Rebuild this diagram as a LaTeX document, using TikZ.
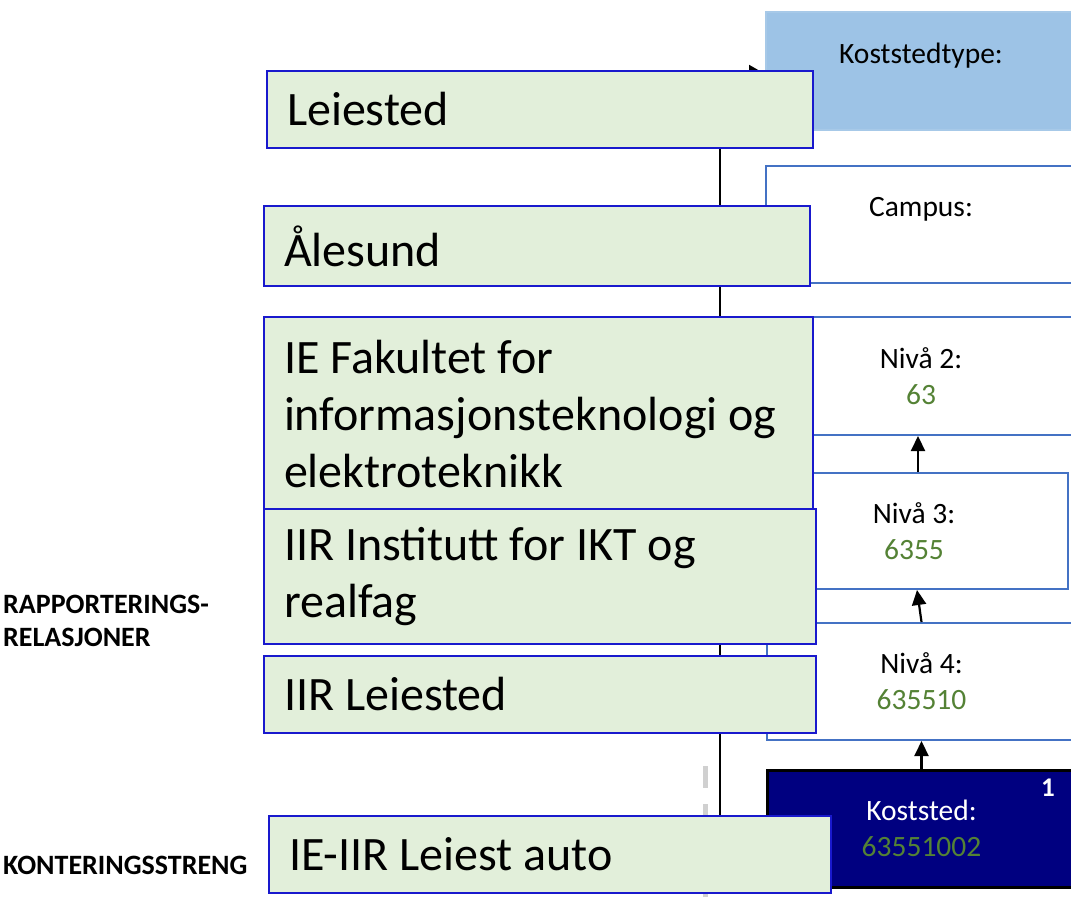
\documentclass[tikz,border=0pt]{standalone}
\usepackage{fontspec}
\setmainfont{Carlito}
\usetikzlibrary{arrows.meta}
\definecolor{gfill}{HTML}{E2EFDA}
\definecolor{gborder}{RGB}{25,25,205}
\definecolor{rborder}{HTML}{4472C4}
\definecolor{ktfill}{HTML}{9DC3E6}
\definecolor{navyfill}{HTML}{000080}
\definecolor{valgreen}{HTML}{548235}
\definecolor{dashgray}{HTML}{D0D0D0}
\newcommand\rstrut{\rule[-8pt]{0pt}{36pt}}
\begin{document}
\begin{tikzpicture}[x=1pt,y=-1pt,
  rbox/.style={draw=rborder, fill=white, line width=2pt, inner sep=0pt, align=center,
    font=\fontsize{29.5}{36}\selectfont},
  gbox/.style={draw=gborder, fill=gfill, line width=2pt, inner xsep=20pt, inner ysep=0pt,
    align=flush left, anchor=north west, font=\fontsize{48}{57}\selectfont},
  arr/.style={draw=black, line width=2.2pt, -{Triangle[length=15pt,width=14pt]}},
  spine/.style={draw=black, line width=2pt, -{Triangle[length=11pt,width=12pt]}},
  lbl/.style={inner sep=0pt, align=left, font=\bfseries\fontsize{28}{33}\selectfont}
]
\useasboundingbox (0,0) rectangle (1071,897);
\fill[white] (0,0) rectangle (1071,897);

% gray dashed line
\coordinate (dtop) at (705,766);
\coordinate (dbot) at (705,897);
\draw[dashgray, line width=5pt, dash pattern=on 22pt off 16pt] (dtop) -- (dbot);

% right-hand boxes
\node[rbox, draw=ktfill!90!white, fill=ktfill, minimum width=310pt, minimum height=118pt] (kt) at (921,71)
  {Koststedtype:\rstrut\\\rstrut};
\node[rbox, minimum width=310pt, minimum height=117pt] (campus) at (921,224.5)
  {Campus:\rstrut\\\rstrut};
\node[rbox, minimum width=310pt, minimum height=118pt] (n2) at (921,376)
  {Nivå 2:\rstrut\\\textcolor{valgreen}{63}\rstrut};
\node[rbox, minimum width=308pt, minimum height=116pt] (n3) at (914,531)
  {Nivå 3:\rstrut\\\textcolor{valgreen}{6355}\rstrut};
\node[rbox, minimum width=309pt, minimum height=117pt] (n4) at (921.5,681.5)
  {Nivå 4:\rstrut\\\textcolor{valgreen}{635510}\rstrut};
\node[rbox, draw=black, line width=3pt, fill=navyfill, text=white, minimum width=309pt, minimum height=117pt] (ks) at (921.5,828.5)
  {Koststed:\rstrut\\\textcolor{valgreen}{63551002}\rstrut};
\node[text=white, inner sep=0pt, font=\bfseries\fontsize{27}{30}\selectfont] (one) at (1048,788) {1};

% arrows between levels
\draw[arr] (ks.north) -- (n4.south);
\draw[arr] (n4.north) -- ([xshift=3pt]n3.south);
\draw[arr] ([xshift=4pt]n3.north) -- ([xshift=-3pt]n2.south);

% green box at the bottom (the spine starts on it)
\node[gbox, text width=522pt, minimum height=77pt] (ieiir) at (268,815) {IE-IIR Leiest auto};

% spine connector (behind the other green boxes)
\coordinate (spx) at (720,0);
\draw[spine, shorten >=5pt] (spx |- ieiir.north) |- (kt.west);

\node[gbox, text width=506pt, minimum height=77pt] (leie) at (266,70) {Leiested};
\node[gbox, text width=506pt, minimum height=80pt] (ales) at (263,205) {Ålesund};
\node[gbox, text width=509pt, minimum height=194pt] (ief) at (263,316)
  {IE Fakultet for\\informasjonsteknologi og\\elektroteknikk};
\node[gbox, text width=512pt, minimum height=135pt] (iir) at (263,508)
  {IIR Institutt for IKT og\\realfag};
\node[gbox, text width=512pt, minimum height=77pt] (iirl) at (263,655) {IIR Leiested};

% left labels
\node[lbl, anchor=north west] (rap) at (3,595) {RAPPORTERINGS-\\RELASJONER};
\node[lbl, anchor=base west] (kont) at (3,874) {KONTERINGSSTRENG};
\end{tikzpicture}
\end{document}
